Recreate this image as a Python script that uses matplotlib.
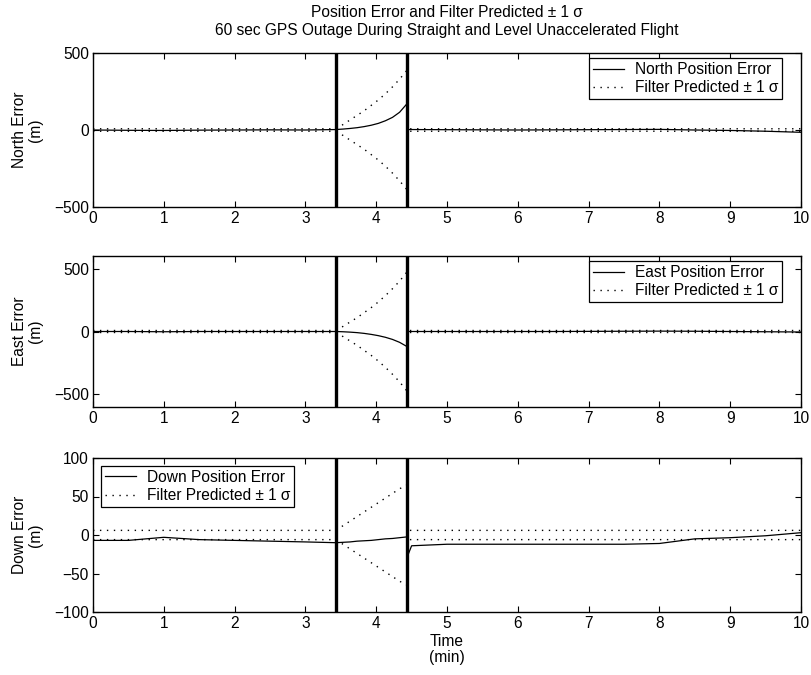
import matplotlib
matplotlib.use("Agg")
import matplotlib.pyplot as plt
from matplotlib.lines import Line2D

plt.rcParams['font.family'] = ['Liberation Sans', 'DejaVu Sans']
plt.rcParams['font.size'] = 11.2
plt.rcParams['axes.unicode_minus'] = True

# time (min)
t = [0, 0.5, 1.0, 1.5, 2.0, 2.5, 3.0, 3.43,
     3.53, 3.63, 3.73, 3.83, 3.93, 4.03, 4.13, 4.23, 4.33, 4.43,
     4.44, 4.5, 5.0, 5.5, 6.0, 6.5, 7.0, 7.5, 8.0, 8.5, 9.0, 9.5, 10.0]

north_err = [0, -2, -3, -1, 0, 1, 0, 3,
             6, 10, 15, 22, 31, 43, 60, 82, 115, 168,
             3, 3, 2, 1, 0, 1, 2, 3, 4, 0, -3, -8, -15]
north_sig = [8, 8, 8, 8, 8, 8, 8, 8,
             35, 65, 95, 125, 160, 195, 235, 280, 330, 385,
             8, 8, 8, 8, 8, 8, 8, 8, 8, 8, 8, 8, 8]

east_err = [0, 0, -2, 0, 0, 0, 0, 0,
            -2, -5, -9, -15, -23, -33, -46, -63, -86, -118,
            0, 0, 0, 0, 0, 0, 1, 2, 3, 2, 0, -2, -4]
east_sig = [8, 8, 8, 8, 8, 8, 8, 8,
            40, 75, 110, 150, 190, 235, 285, 340, 400, 470,
            8, 8, 8, 8, 8, 8, 8, 8, 8, 8, 8, 8, 8]

down_err = [-7, -7, -3, -6, -7, -8, -9, -10,
            -9.5, -9, -8, -7.5, -7, -6, -5, -4.5, -3.5, -2.5,
            -28, -14, -12, -12, -12, -12, -12, -12, -11, -5, -3.5, -1, 3]
down_sig = [6, 6, 6, 6, 6, 6, 6, 6,
            12, 18, 24, 30, 36, 42, 48, 54, 60, 65,
            6, 6, 6, 6, 6, 6, 6, 6, 6, 6, 6, 6, 6]

outage = [3.43, 4.43]
xticks = list(range(0, 11))

panels = [
    ("North", north_err, north_sig, (-500, 500), [-500, 0, 500], "upper right"),
    ("East", east_err, east_sig, (-600, 600), [-500, 0, 500], "upper right"),
    ("Down", down_err, down_sig, (-100, 100), [-100, -50, 0, 50, 100], "upper left"),
]

W, H = 812, 675
fig = plt.figure(figsize=(W / 100, H / 100), dpi=100)
boxes = [(53, 207), (256, 407), (458, 612)]
left, right = 93, 801

dash = (1, 4)
axes = []
for (name, err, sig, ylim, yt, loc), (top, bot) in zip(panels, boxes):
    ax = fig.add_axes([left / W, 1 - bot / H, (right - left) / W, (bot - top) / H])
    axes.append(ax)
    neg = [-s for s in sig]
    ax.plot(t, err, color='black', lw=0.9)
    ax.plot(t, sig, color='black', lw=1.0, linestyle=(0, dash))
    ax.plot(t, neg, color='black', lw=1.0, linestyle=(0, dash))
    for xo in outage:
        ax.axvline(xo, color='black', lw=2.4)
    ax.set_xlim(0, 10)
    ax.set_ylim(*ylim)
    ax.set_xticks(xticks)
    ax.set_yticks(yt)
    ax.tick_params(direction='in', top=True, right=True, length=4.5, width=0.8, pad=3)
    for sp in ax.spines.values():
        sp.set_linewidth(1.0)
    ax.set_ylabel(f"{name} Error\n(m)", linespacing=1.1)
    ax.yaxis.set_label_coords(-0.07, 0.5)
    handles = [Line2D([], [], color='black', lw=0.9),
               Line2D([], [], color='black', lw=1.0, linestyle=(0, dash))]
    labels = [f"{name} Position Error", "Filter Predicted \u00b1 1 \u03c3"]
    h = bot - top
    if loc == "upper right":
        bbox = ((782 - left) / (right - left), 1 - 5.5 / h)
    else:
        bbox = ((101 - left) / (right - left), 1 - 8 / h)
    leg = ax.legend(handles, labels, loc=loc, bbox_to_anchor=bbox, fancybox=False,
                    edgecolor='black', framealpha=1, borderpad=0.25, handlelength=2.0,
                    handletextpad=0.7, labelspacing=0.2, borderaxespad=0)
    leg.get_frame().set_linewidth(0.9)

axes[0].set_title("Position Error and Filter Predicted \u00b1 1 \u03c3\n"
                  "60 sec GPS Outage During Straight and Level Unaccelerated Flight",
                  fontsize=11.2, pad=13, linespacing=1.25)
axes[2].set_xlabel("Time\n(min)", linespacing=1.1, labelpad=2)

fig.savefig("out.png", dpi=100)
